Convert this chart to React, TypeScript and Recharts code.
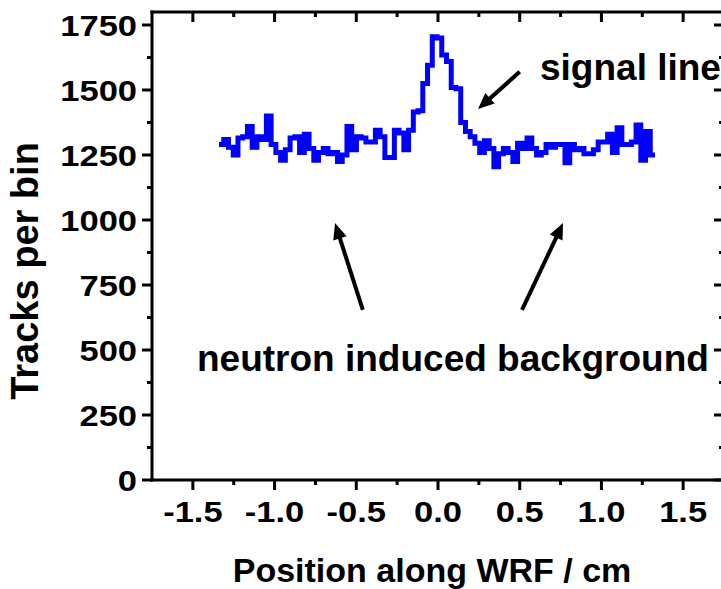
import { LineChart, Line, XAxis, YAxis, ReferenceLine } from "recharts"

// histogram of track positions, bins
const BIN_START = -1.34
const BIN_WIDTH = 0.029
const COUNTS = [
  1290, 1310, 1280, 1250, 1315, 1320, 1360, 1280, 1320, 1310, 1400, 1290, 1260, 1230, 1270, 1315, 1320, 1260, 1330, 1275, 1230, 1260, 1275,
  1255, 1260, 1225, 1250, 1360, 1270, 1320, 1315, 1300, 1300, 1345, 1320, 1240, 1240, 1345, 1335, 1270, 1345, 1415, 1420, 1525, 1595, 1705, 1700,
  1635, 1610, 1510, 1505, 1375, 1340, 1320, 1295, 1260, 1305, 1275, 1205, 1255, 1275, 1260, 1225, 1295, 1275, 1315, 1275, 1250, 1260, 1290,
  1280, 1290, 1290, 1220, 1290, 1270, 1275, 1255, 1255, 1270, 1300, 1300, 1330, 1260, 1355, 1290, 1290, 1300, 1365, 1230, 1340, 1250,
]

const X_MIN = -1.75
const X_MAX = 1.75
const X_MAJOR = [-1.5, -1, -0.5, 0, 0.5, 1, 1.5]
const X_LABELS = ["-1.5", "-1.0", "-0.5", "0.0", "0.5", "1.0", "1.5"]
const X_MINOR = [-1.25, -0.75, -0.25, 0.25, 0.75, 1.25]
const Y_MAJOR = [0, 250, 500, 750, 1000, 1250, 1500, 1750]
const Y_MINOR = [125, 375, 625, 875, 1125, 1375, 1625]
const Y_TOP = 1800

const ARROWS = [
  { from: { x: 0.5, y: 1570 }, to: { x: 0.245, y: 1427 } },
  { from: { x: -0.46, y: 654 }, to: { x: -0.63, y: 988 } },
  { from: { x: 0.514, y: 654 }, to: { x: 0.765, y: 988 } },
]

// step edges: each bin starts at its left edge, last edge closes the final bin
const rows = COUNTS.map((c, i) => ({ x: +(BIN_START + i * BIN_WIDTH).toFixed(4), y: c }))
rows.push({ x: +(BIN_START + COUNTS.length * BIN_WIDTH).toFixed(4), y: COUNTS[COUNTS.length - 1] })

// chart layout
const CHART_W = 760
const CHART_H = 589
const TOP = 12
const LEFT_W = 152
const RIGHT_W = 36
const BOTTOM_H = 109
const PLOT_L = LEFT_W
const PLOT_R = CHART_W - RIGHT_W

const FONT = "'Liberation Sans', Arial, sans-serif"
const X_TICKS = [...X_MAJOR, ...X_MINOR].sort((a, b) => a - b)
const Y_TICKS = [...Y_MAJOR, ...Y_MINOR].sort((a, b) => a - b)

const txt = { fontFamily: FONT, fontWeight: "bold" as const, fill: "#000" }

// the original labels are a bit wider than Liberation Sans, so stretch them a little
function TickText({ x, y, anchor, children }: any) {
  return (
    <text transform={`translate(${x} ${y}) scale(1.15 1)`} textAnchor={anchor} fontSize={30} {...txt}>
      {children}
    </text>
  )
}

function BottomTick({ x, y, payload }: any) {
  const i = X_MAJOR.indexOf(payload.value)
  return (
    <g>
      <line x1={x} y1={y} x2={x} y2={y + (i >= 0 ? 10 : 5)} stroke="#000" strokeWidth={3} />
      {i >= 0 && (
        <TickText x={x} y={y + 42} anchor="middle">
          {X_LABELS[i]}
        </TickText>
      )}
    </g>
  )
}

function LeftTick({ x, y, payload }: any) {
  const major = Y_MAJOR.includes(payload.value)
  return (
    <g>
      <line x1={x - (major ? 10 : 5)} y1={y} x2={x} y2={y} stroke="#000" strokeWidth={3} />
      {major && (
        <TickText x={x - 15} y={y + 11} anchor="end">
          {payload.value}
        </TickText>
      )}
    </g>
  )
}

function RightTick({ x, y, payload }: any) {
  const len = Y_MAJOR.includes(payload.value) ? 10 : 5
  return <line x1={x - len} y1={y} x2={x} y2={y} stroke="#000" strokeWidth={3} />
}

function Arrow(props: any) {
  const { x1, y1, x2, y2 } = props
  const dx = x2 - x1
  const dy = y2 - y1
  const d = Math.hypot(dx, dy)
  const ux = dx / d
  const uy = dy / d
  const bx = x2 - ux * 16
  const by = y2 - uy * 16
  const pts = `${x2},${y2} ${bx - uy * 7},${by + ux * 7} ${bx + uy * 7},${by - ux * 7}`
  return (
    <g>
      <line x1={x1} y1={y1} x2={bx + ux * 2} y2={by + uy * 2} stroke="#000" strokeWidth={4} />
      <polygon points={pts} fill="#000" />
    </g>
  )
}

// top side of the frame: same linear mapping as the bottom axis
const topX = (v: number) => PLOT_L + ((v - X_MIN) / (X_MAX - X_MIN)) * (PLOT_R - PLOT_L)

const axisLine = { stroke: "#000", strokeWidth: 3, strokeLinecap: "square" as const }

export default function App() {
  return (
    <div style={{ position: "fixed", left: 0, top: 0, width: 721, height: 589, overflow: "hidden", background: "#fff" }}>
      <LineChart width={CHART_W} height={CHART_H} data={rows} margin={{ top: TOP, right: 0, bottom: 0, left: 0 }}>
        <XAxis
          xAxisId="bottom"
          dataKey="x"
          type="number"
          domain={[X_MIN, X_MAX]}
          allowDataOverflow
          ticks={X_TICKS}
          interval={0}
          height={BOTTOM_H}
          tickSize={0}
          tickMargin={0}
          tickLine={false}
          axisLine={axisLine}
          tick={BottomTick}
        />
        <YAxis
          yAxisId="left"
          type="number"
          domain={[0, Y_TOP]}
          allowDataOverflow
          ticks={Y_TICKS}
          interval={0}
          width={LEFT_W}
          tickSize={0}
          tickMargin={0}
          tickLine={false}
          axisLine={axisLine}
          tick={LeftTick}
        />
        <YAxis
          yAxisId="right"
          orientation="right"
          type="number"
          domain={[0, Y_TOP]}
          allowDataOverflow
          ticks={Y_TICKS}
          interval={0}
          width={RIGHT_W}
          tickSize={0}
          tickMargin={0}
          tickLine={false}
          axisLine={axisLine}
          tick={RightTick}
        />
        <Line
          xAxisId="bottom"
          yAxisId="left"
          type="stepAfter"
          dataKey="y"
          stroke="#0000ff"
          strokeWidth={5}
          dot={false}
          isAnimationActive={false}
        />
        {ARROWS.map((a, i) => (
          <ReferenceLine key={i} xAxisId="bottom" yAxisId="left" segment={[a.from, a.to]} shape={Arrow} />
        ))}
      </LineChart>
      <svg
        width={721}
        height={589}
        style={{ position: "absolute", left: 0, top: 0, pointerEvents: "none", zIndex: 2 }}
      >
        <rect x={PLOT_L - 1.5} y={TOP - 1.5} width={PLOT_R - PLOT_L + 3} height={3} fill="#000" />
        {X_TICKS.map((t) => (
          <rect
            key={t}
            x={topX(t) - 1.5}
            y={TOP}
            width={3}
            height={X_MAJOR.includes(t) ? 10 : 5}
            fill="#000"
          />
        ))}
        <text x={540} y={80} fontSize={37} {...txt}>signal line</text>
        <text x={197} y={371} fontSize={37} {...txt}>neutron induced background</text>
        <text x={432} y={582} textAnchor="middle" fontSize={34} {...txt}>Position along WRF / cm</text>
        <text x={38} y={271} textAnchor="middle" fontSize={38} transform="rotate(-90 38 271)" {...txt}>
          Tracks per bin
        </text>
      </svg>
    </div>
  )
}
